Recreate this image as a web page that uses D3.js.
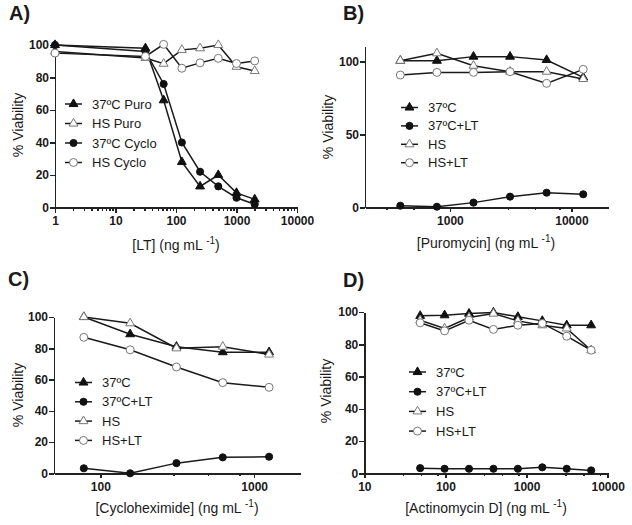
<!DOCTYPE html>
<html>
<head>
<meta charset="utf-8">
<script src="https://cdn.jsdelivr.net/npm/d3@7"></script>
<style>
  body { margin: 0; background: #fff; }
  svg text { font-family: Arial, "Liberation Sans", sans-serif; fill: #1a1a1a; }
  .axis path, .axis line { stroke: #222; stroke-width: 1.5; shape-rendering: crispEdges; }
  .axis text { font-size: 12px; font-weight: bold; }
</style>
</head>
<body>
<svg id="chart" width="632" height="525"></svg>
<script>
// ---- A) LT dose response
var ltDose = [1, 31.25, 62.5, 125, 250, 500, 1000, 2000];
var puro37 = [100, 98, 66, 28, 13, 20, 9, 5];
var puroHS = [96, 92, 88.5, 97, 98, 100, 86.6, 84];
var cyclo37 = [100, 96, 76, 40, 22, 13, 6, 2];
var cycloHS = [95, 93, 100.4, 85.7, 89, 91.8, 88.6, 90.2];

// ---- B) puromycin
var puroDose = [390.6, 781.25, 1562.5, 3125, 6250, 12500];
var bC37 = [100.4, 100.4, 103.2, 103.2, 100.9, 89];
var bC37LT = [1.1, 0.4, 3.2, 7.3, 10, 8.9];
var bHS = [100.4, 105.5, 97, 92.9, 92.9, 87.9];
var bHSLT = [90.6, 92.4, 92.4, 92.9, 84.9, 94.5];

// ---- C) cycloheximide
var chxDose = [78.125, 156.25, 312.5, 625, 1250];
var cC37 = [100, 89, 81, 77.5, 77.5];
var cC37LT = [3.2, 0, 6.5, 10.2, 10.6];
var cHS = [100, 96, 80, 81, 76];
var cHSLT = [87, 79, 68, 58, 55];

// ---- D) actinomycin D
var actDose = [48.83, 97.66, 195.3, 390.6, 781.25, 1562.5, 3125, 6250];
var dC37 = [97.6, 98, 99, 99.7, 97, 94.5, 91.8, 91.8];
var dC37LT = [3.2, 2.8, 2.8, 2.8, 2.8, 3.7, 2.8, 1.8];
var dHS = [94.9, 89.8, 96.6, 99, 94.5, 91.8, 89.8, 76.3];
var dHSLT = [93.3, 88.3, 94.9, 89.2, 91.8, 92.9, 85, 76.3];

// tick labels
var aXTicks = [1, 10, 100, 1000, 10000];
var bXTicks = [1000, 10000];
var cXTicks = [100, 1000];
var dXTicks = [10, 100, 1000, 10000];
var bMinor = [300, 500, 800, 3000, 5000, 8000];
var cMinor = [300, 500, 800];
var dMinor = [30, 50, 80, 300, 500, 800, 3000, 5000, 8000];
var yTicks20 = [0, 20, 40, 60, 80, 100];
var yTicks50 = [0, 50, 100];

var svg = d3.select("#chart");

// all 2..9 minor ticks of a log range
function allMinor(lo, hi) {
    var out = [];
    for (var p = lo; p < hi; p *= 10) {
        for (var k = 2; k < 10; k++) out.push(p * k);
    }
    return out;
}

function markerPath(sym) {
    if (sym == "triFill" || sym == "triOpen")
        return d3.symbol().type(d3.symbolTriangle).size(34)();
    return d3.symbol().type(d3.symbolCircle).size(sym == "dotFill" ? 40 : 50)();
}

function drawMarker(g, sym, x, y) {
    var filled = (sym == "triFill" || sym == "dotFill");
    g.append("path")
        .attr("d", markerPath(sym))
        .attr("transform", "translate(" + x + "," + y + ")")
        .attr("fill", filled ? "#111" : "#fff")
        .attr("stroke", filled ? "#111" : "#777")
        .attr("stroke-width", 1);
}

function drawPanel(p) {
    var xs = d3.scaleLog().domain(p.xDomain).range(p.xRange);
    var ys = d3.scaleLinear().domain(p.yDomain).range(p.yRange);
    var g = svg.append("g");

    // 坐标轴
    g.append("g")
        .attr("class", "axis")
        .attr("transform", "translate(0," + p.yRange[0] + ")")
        .call(d3.axisBottom(xs).tickValues(p.minor).tickFormat("").tickSize(3).tickSizeOuter(0));
    g.append("g")
        .attr("class", "axis")
        .attr("transform", "translate(0," + p.yRange[0] + ")")
        .call(d3.axisBottom(xs).tickValues(p.xTicks).tickFormat(d3.format("d")).tickSize(5).tickSizeOuter(0).tickPadding(4));
    g.append("g")
        .attr("class", "axis")
        .attr("transform", "translate(" + p.xRange[0] + ",0)")
        .call(d3.axisLeft(ys).tickValues(p.yTicks).tickSize(5).tickSizeOuter(0).tickPadding(1));

    // lines then symbols
    p.series.forEach(function (s) {
        var pts = p.x.map(function (d, i) { return [d, s.values[i]]; });
        var line = d3.line()
            .x(function (d) { return xs(d[0]); })
            .y(function (d) { return ys(d[1]); });
        g.append("path")
            .attr("d", line(pts))
            .attr("fill", "none")
            .attr("stroke", "#1a1a1a")
            .attr("stroke-width", 1.5);
    });
    p.series.forEach(function (s) {
        p.x.forEach(function (d, i) {
            drawMarker(g, s.sym, xs(d), ys(s.values[i]));
        });
    });

    // legend
    p.series.forEach(function (s, i) {
        var ly = p.legend[1] + i * p.legend[2];
        g.append("line")
            .attr("x1", p.legend[0]).attr("x2", p.legend[0] + 17)
            .attr("y1", ly).attr("y2", ly)
            .attr("stroke", "#1a1a1a").attr("stroke-width", 1.5);
        drawMarker(g, s.sym, p.legend[0] + 8.5, ly);
        g.append("text")
            .attr("x", p.legend[0] + 27).attr("y", ly).attr("dy", "0.35em")
            .attr("font-size", 13)
            .text(s.name);
    });

    // titles
    g.append("text")
        .attr("x", p.letter[0]).attr("y", p.letter[1])
        .attr("font-size", 20).attr("font-weight", "bold")
        .text(p.letter[2]);
    g.append("text")
        .attr("transform", "translate(" + p.yTitle[0] + "," + p.yTitle[1] + ") rotate(-90)")
        .attr("text-anchor", "middle").attr("dy", "0.35em")
        .attr("font-size", 14)
        .text("%  Viability");
    var xt = g.append("text")
        .attr("x", p.xTitle[0]).attr("y", p.xTitle[1])
        .attr("text-anchor", "middle")
        .attr("font-size", 14);
    xt.append("tspan").text(p.xTitle[2] + " (ng mL ");
    xt.append("tspan").attr("dy", -6).attr("font-size", 10).text("-1");
    xt.append("tspan").attr("dy", 6).text(")");
}

drawPanel({
    x: ltDose, xDomain: [1, 10000], xRange: [55, 297],
    yDomain: [0, 100], yRange: [207.5, 45],
    xTicks: aXTicks, minor: allMinor(1, 10000), yTicks: yTicks20,
    series: [
        { name: "37ºC Puro", values: puro37, sym: "triFill" },
        { name: "HS Puro", values: puroHS, sym: "triOpen" },
        { name: "37ºC Cyclo", values: cyclo37, sym: "dotFill" },
        { name: "HS Cyclo", values: cycloHS, sym: "dotOpen" }
    ],
    legend: [65, 104, 19.5],
    letter: [9, 20, "A)"], yTitle: [18, 125], xTitle: [176, 250, "[LT]"]
});

drawPanel({
    x: puroDose, xDomain: [200, 20000], xRange: [365, 608],
    yDomain: [0, 110], yRange: [207.3, 46.7],
    xTicks: bXTicks, minor: bMinor, yTicks: yTicks50,
    series: [
        { name: "37ºC", values: bC37, sym: "triFill" },
        { name: "37ºC+LT", values: bC37LT, sym: "dotFill" },
        { name: "HS", values: bHS, sym: "triOpen" },
        { name: "HS+LT", values: bHSLT, sym: "dotOpen" }
    ],
    legend: [401, 107.5, 18.4],
    letter: [343, 20, "B)"], yTitle: [328, 127], xTitle: [486, 248, "[Puromycin]"]
});

drawPanel({
    x: chxDose, xDomain: [50, 2000], xRange: [54, 300.5],
    yDomain: [0, 100], yRange: [473.3, 317],
    xTicks: cXTicks, minor: cMinor, yTicks: yTicks20,
    series: [
        { name: "37ºC", values: cC37, sym: "triFill" },
        { name: "37ºC+LT", values: cC37LT, sym: "dotFill" },
        { name: "HS", values: cHS, sym: "triOpen" },
        { name: "HS+LT", values: cHSLT, sym: "dotOpen" }
    ],
    legend: [75, 382.5, 19.3],
    letter: [8, 286, "C)"], yTitle: [18, 395], xTitle: [177, 513, "[Cycloheximide]"]
});

drawPanel({
    x: actDose, xDomain: [10, 10000], xRange: [364.3, 607.7],
    yDomain: [0, 100], yRange: [473.3, 312],
    xTicks: dXTicks, minor: dMinor, yTicks: yTicks20,
    series: [
        { name: "37ºC", values: dC37, sym: "triFill" },
        { name: "37ºC+LT", values: dC37LT, sym: "dotFill" },
        { name: "HS", values: dHS, sym: "triOpen" },
        { name: "HS+LT", values: dHSLT, sym: "dotOpen" }
    ],
    legend: [409, 372, 19.7],
    letter: [343, 287, "D)"], yTitle: [326, 391], xTitle: [486, 513, "[Actinomycin D]"]
});
</script>
</body>
</html>
